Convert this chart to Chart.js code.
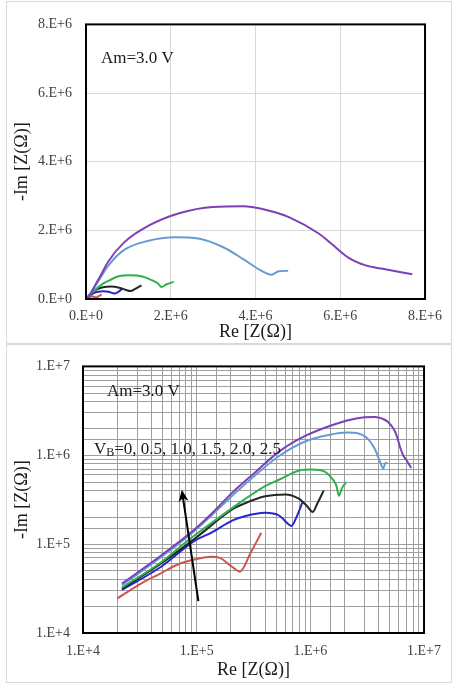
<!DOCTYPE html>
<html>
<head>
<meta charset="utf-8">
<script src="https://cdn.jsdelivr.net/npm/chart.js@4.4.1/dist/chart.umd.min.js"></script>
<style>
  body { margin: 0; background: #fff; width: 452px; height: 684px; position: relative; overflow: hidden; }
  .panel { position: absolute; left: 6px; width: 444px; border: 1px solid #d9d9d9; }
  canvas { position: absolute; }
</style>
</head>
<body>
<div class="panel" style="top:1px;height:341px"></div>
<div class="panel" style="top:344px;height:337px"></div>
<canvas id="nyquist" width="444" height="341" style="left:7px;top:2px"></canvas>
<canvas id="loglog" width="444" height="337" style="left:7px;top:345px"></canvas>
<script>
// impedance curves, [Re Z, -Im Z] in ohm, one list per bias voltage VB
const vb00 = [[2.0e4, 2.45e4], [3.5e4, 3.8e4], [4.7e4, 4.6e4], [6.8e4, 5.9e4], [1.0e5, 6.8e4], [1.36e5, 7.2e4],
  [1.6e5, 7.0e4], [2.0e5, 5.7e4], [2.4e5, 4.9e4], [3.0e5, 8.1e4], [3.7e5, 1.34e5]];
const vb05 = [[2.2e4, 3.05e4], [4.9e4, 5.6e4], [9.5e4, 1.08e5], [1.35e5, 1.35e5], [2.07e5, 1.85e5], [2.6e5, 2.05e5],
  [4.0e5, 2.25e5], [5.3e5, 2.1e5], [6.5e5, 1.65e5], [6.8e5, 1.6e5], [7.6e5, 2.05e5], [8.6e5, 3.05e5]];
const vb10 = [[2.2e4, 3.15e4], [4.9e4, 6.1e4], [1.0e5, 1.2e5], [2.1e5, 2.5e5], [2.6e5, 2.85e5], [4.0e5, 3.45e5],
  [6.0e5, 3.63e5], [7.9e5, 3.25e5], [9.3e5, 2.7e5], [1.05e6, 2.3e5], [1.15e6, 2.85e5], [1.31e6, 4.0e5]];
const vb15 = [[2.2e4, 3.25e4], [4.9e4, 6.3e4], [8.3e4, 1.09e5], [1.34e5, 1.72e5], [2.6e5, 3.15e5], [4.0e5, 4.5e5],
  [5.3e5, 5.3e5], [7.9e5, 6.7e5], [1.03e6, 6.9e5], [1.35e6, 6.5e5], [1.55e6, 5.5e5], [1.7e6, 4.5e5],
  [1.78e6, 3.5e5], [1.9e6, 4.3e5], [2.07e6, 5.0e5]];
const vb20 = [[2.2e4, 3.45e4], [4.9e4, 7.2e4], [9.5e4, 1.4e5], [1.35e5, 2.1e5], [2.1e5, 3.6e5], [3.3e5, 6.0e5],
  [5.3e5, 9.8e5], [9.0e5, 1.43e6], [1.45e6, 1.69e6], [2.1e6, 1.8e6], [2.65e6, 1.76e6], [3.25e6, 1.5e6],
  [3.7e6, 1.17e6], [4.1e6, 8.5e5], [4.38e6, 7.1e5], [4.55e6, 8.1e5], [4.77e6, 8.2e5]];
const vb25 = [[2.2e4, 3.6e4], [4.9e4, 7.5e4], [9.5e4, 1.45e5], [1.35e5, 2.2e5], [2.1e5, 3.9e5], [3.3e5, 6.5e5],
  [5.3e5, 1.1e6], [9.0e5, 1.65e6], [1.5e6, 2.15e6], [2.2e6, 2.5e6], [3.0e6, 2.68e6], [3.7e6, 2.7e6],
  [4.3e6, 2.58e6], [4.8e6, 2.38e6], [5.5e6, 1.9e6], [5.8e6, 1.6e6], [6.2e6, 1.2e6], [6.6e6, 0.98e6],
  [7.0e6, 0.88e6], [7.7e6, 0.72e6]];

const vbLabels = ['0', '0.5', '1.0', '1.5', '2.0', '2.5'];
const curves = [vb00, vb05, vb10, vb15, vb20, vb25];
const curveColors = ['#cc5550', '#2626cc', '#262626', '#2fb050', '#6a9ad3', '#7d40b8'];

const linTicks = [0, 2e6, 4e6, 6e6, 8e6];
const logDecades = [1e4, 1e5, 1e6, 1e7];
// arrow across the curves, pointing to increasing VB
const arrowFrom = [1.035e5, 2.28e4];
const arrowTo = [7.4e4, 4.1e5];

const serif = "'Liberation Serif', 'Times New Roman', serif";
const tickColor = '#404040';

function sci(v) {
  if (v === 0) return '0.E+0';
  const e = Math.floor(Math.log10(v) + 1e-9);
  return Math.round(v / Math.pow(10, e)) + '.E+' + e;
}

function makeDatasets() {
  return curves.map((c, i) => ({
    label: 'VB=' + vbLabels[i],
    data: c.map(([x, y]) => ({ x, y })),
    borderColor: curveColors[i],
    borderWidth: 2,
    pointRadius: 0,
    cubicInterpolationMode: 'monotone',
    order: curves.length - i,
  }));
}

const plotFrame = {
  id: 'plotFrame',
  afterDraw(chart) {
    const { ctx, chartArea: a } = chart;
    ctx.save();
    ctx.strokeStyle = '#000';
    ctx.lineWidth = 2;
    ctx.strokeRect(a.left, a.top, a.right - a.left, a.bottom - a.top);
    ctx.restore();
  }
};

function noteText(ctx, txt, x, y) {
  ctx.font = '17px ' + serif;
  ctx.fillStyle = '#1a1a1a';
  ctx.textBaseline = 'middle';
  ctx.textAlign = 'left';
  ctx.fillText(txt, x, y);
}

function drawArrow(ctx, x0, y0, x1, y1) {
  const ang = Math.atan2(y1 - y0, x1 - x0);
  const c = Math.cos(ang), s = Math.sin(ang);
  const len = 12, half = 5;
  ctx.beginPath();
  ctx.moveTo(x0, y0);
  ctx.lineTo(x1 - c * len * 0.6, y1 - s * len * 0.6);
  ctx.stroke();
  ctx.beginPath();
  ctx.moveTo(x1, y1);
  ctx.lineTo(x1 - c * len + s * half, y1 - s * len - c * half);
  ctx.lineTo(x1 - c * len * 0.7, y1 - s * len * 0.7);
  ctx.lineTo(x1 - c * len - s * half, y1 - s * len + c * half);
  ctx.closePath();
  ctx.fill();
}

function axisTitle(text, pad) {
  return { display: true, text, color: '#1a1a1a', font: { family: serif, size: 18 }, padding: pad };
}

// linear Nyquist plot
new Chart(document.getElementById('nyquist'), {
  type: 'line',
  data: { datasets: makeDatasets() },
  options: {
    responsive: false,
    animation: false,
    devicePixelRatio: 1,
    layout: { padding: { left: 0, top: 12, right: 22, bottom: 0 } },
    plugins: { legend: { display: false }, tooltip: { enabled: false } },
    scales: {
      x: {
        type: 'linear', min: 0, max: 8e6,
        afterBuildTicks: (sc) => { sc.ticks = linTicks.map(v => ({ value: v })); },
        afterFit: (sc) => { sc.height = 44; },
        grid: { color: '#d9d9d9', drawTicks: false },
        border: { display: false },
        ticks: { autoSkip: false, maxRotation: 0, padding: 9, color: tickColor, font: { family: serif, size: 14 }, callback: (v) => sci(v) },
        title: axisTitle('Re [Z(Ω)]', { top: 0, bottom: 0 })
      },
      y: {
        type: 'linear', min: 0, max: 8e6,
        afterBuildTicks: (sc) => { sc.ticks = linTicks.map(v => ({ value: v })); },
        afterFit: (sc) => { sc.width = 79; },
        grid: { color: '#d9d9d9', drawTicks: false },
        border: { display: false },
        ticks: { autoSkip: false, padding: 14, color: tickColor, font: { family: serif, size: 14 }, callback: (v) => sci(v) },
        title: axisTitle('-Im [Z(Ω)]', { top: 4, bottom: 0 })
      }
    }
  },
  plugins: [plotFrame, {
    id: 'nyqNotes',
    afterDraw(chart) {
      const { ctx, chartArea: a } = chart;
      ctx.save();
      noteText(ctx, 'Am=3.0 V', a.left + 15, a.top + 34);
      ctx.restore();
    }
  }]
});

// log-log plot of the same curves
new Chart(document.getElementById('loglog'), {
  type: 'line',
  data: { datasets: makeDatasets() },
  options: {
    responsive: false,
    animation: false,
    devicePixelRatio: 1,
    layout: { padding: { left: 0, top: 12, right: 25, bottom: 0 } },
    plugins: { legend: { display: false }, tooltip: { enabled: false } },
    scales: {
      x: {
        type: 'logarithmic', min: 1e4, max: 1e7,
        afterFit: (sc) => { sc.height = 49; },
        grid: { color: '#9e9e9e', drawTicks: false },
        border: { display: false },
        ticks: { autoSkip: false, maxRotation: 0, padding: 10, color: tickColor, font: { family: serif, size: 14 },
          callback: (v) => logDecades.includes(v) ? sci(v) : '' },
        title: axisTitle('Re [Z(Ω)]', { top: 0, bottom: 1 })
      },
      y: {
        type: 'logarithmic', min: 1e4, max: 1e7,
        afterFit: (sc) => { sc.width = 76; },
        grid: { color: '#9e9e9e', drawTicks: false },
        border: { display: false },
        ticks: { autoSkip: false, padding: 13, color: tickColor, font: { family: serif, size: 14 },
          callback: (v) => logDecades.includes(v) ? sci(v) : '' },
        title: axisTitle('-Im [Z(Ω)]', { top: 4, bottom: 0 })
      }
    }
  },
  plugins: [plotFrame, {
    id: 'logNotes',
    afterDraw(chart) {
      const { ctx, chartArea: a, scales } = chart;
      ctx.save();
      noteText(ctx, 'Am=3.0 V', a.left + 24, a.top + 25);
      // V with subscript B, then the list of bias values
      const vx = a.left + 11, vy = a.top + 83;
      noteText(ctx, 'V', vx, vy);
      const vw = ctx.measureText('V').width;
      ctx.font = '12px ' + serif;
      ctx.fillText('B', vx + vw, vy + 3);
      const bw = ctx.measureText('B').width;
      noteText(ctx, '=' + vbLabels.join(', '), vx + vw + bw, vy);
      ctx.strokeStyle = '#000';
      ctx.fillStyle = '#000';
      ctx.lineWidth = 2;
      drawArrow(ctx,
        scales.x.getPixelForValue(arrowFrom[0]), scales.y.getPixelForValue(arrowFrom[1]),
        scales.x.getPixelForValue(arrowTo[0]), scales.y.getPixelForValue(arrowTo[1]));
      ctx.restore();
    }
  }]
});
</script>
</body>
</html>
